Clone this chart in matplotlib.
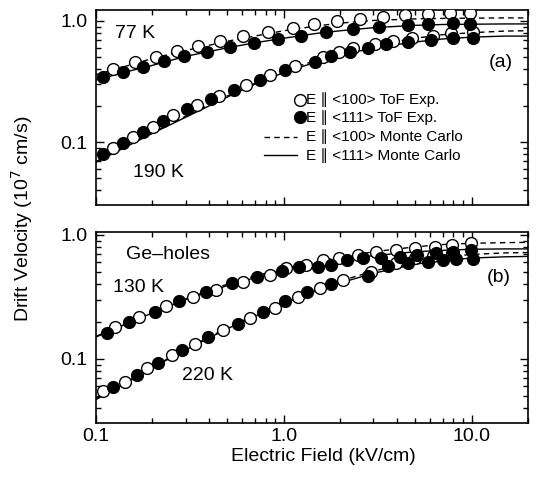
import numpy as np
import matplotlib
matplotlib.use("Agg")
import matplotlib.pyplot as plt
from matplotlib.ticker import LogLocator, FixedLocator, FixedFormatter, NullFormatter

plt.rcParams['font.family'] = ['Liberation Sans', 'DejaVu Sans']

# ---- datos (kV/cm, 1e7 cm/s) ----
# panel (a)
e77_100 = [0.124, 0.161, 0.210, 0.269, 0.350, 0.457, 0.608, 0.826, 1.12, 1.44, 1.91, 2.53, 3.37, 4.43, 5.86, 7.64, 9.84]
v77_100 = [0.40, 0.456, 0.507, 0.569, 0.625, 0.687, 0.751, 0.816, 0.881, 0.94, 0.99, 1.03, 1.07, 1.11, 1.14, 1.16, 1.16]
e77_111 = [0.109, 0.140, 0.179, 0.230, 0.294, 0.388, 0.516, 0.692, 0.933, 1.23, 1.67, 2.34, 3.20, 4.58, 5.86, 8.0, 9.84]
v77_111 = [0.343, 0.381, 0.419, 0.464, 0.514, 0.557, 0.606, 0.654, 0.71, 0.756, 0.806, 0.853, 0.887, 0.927, 0.94, 0.97, 0.94]
e190_100 = [0.124, 0.158, 0.202, 0.258, 0.343, 0.453, 0.633, 0.843, 1.15, 1.62, 1.97, 2.34, 3.05, 3.81, 4.81, 6.22, 7.79, 10.2]
v190_100 = [0.0887, 0.111, 0.134, 0.167, 0.202, 0.241, 0.296, 0.358, 0.428, 0.507, 0.551, 0.595, 0.645, 0.687, 0.719, 0.756, 0.791, 0.816]
e190_111 = [0.109, 0.140, 0.179, 0.228, 0.306, 0.412, 0.541, 0.745, 1.01, 1.46, 1.79, 2.25, 2.80, 3.52, 4.58, 6.1, 7.95, 10.2]
v190_111 = [0.0796, 0.0987, 0.122, 0.150, 0.186, 0.225, 0.269, 0.325, 0.394, 0.461, 0.514, 0.557, 0.601, 0.641, 0.674, 0.697, 0.719, 0.719]

# panel (b)
e130_100 = [0.126, 0.170, 0.236, 0.330, 0.435, 0.603, 0.843, 1.03, 1.32, 1.62, 1.97, 2.48, 3.11, 3.94, 4.98, 6.36, 7.89, 9.96]
v130_100 = [0.182, 0.219, 0.268, 0.318, 0.360, 0.413, 0.476, 0.539, 0.573, 0.621, 0.649, 0.690, 0.725, 0.757, 0.781, 0.805, 0.830, 0.867]
e130_111 = [0.115, 0.150, 0.206, 0.278, 0.385, 0.527, 0.716, 0.984, 1.21, 1.52, 1.79, 2.17, 2.64, 3.31, 4.14, 5.12, 6.44, 7.96, 9.96]
v130_111 = [0.161, 0.200, 0.241, 0.295, 0.349, 0.408, 0.461, 0.515, 0.55, 0.555, 0.573, 0.629, 0.649, 0.649, 0.668, 0.690, 0.72, 0.733, 0.757]
e220_100 = [0.109, 0.143, 0.186, 0.253, 0.336, 0.475, 0.659, 0.895, 1.19, 1.55, 2.07, 2.92, 3.97, 4.98, 6.22, 7.89]
v220_100 = [0.0555, 0.0656, 0.084, 0.108, 0.132, 0.171, 0.213, 0.256, 0.318, 0.372, 0.434, 0.506, 0.591, 0.649, 0.677, 0.711]
e220_111 = [0.124, 0.165, 0.214, 0.286, 0.396, 0.572, 0.773, 1.02, 1.33, 1.79, 2.80, 3.58, 4.58, 5.86, 7.0, 8.3, 10.2]
v220_111 = [0.0598, 0.0743, 0.0933, 0.118, 0.150, 0.191, 0.241, 0.295, 0.343, 0.403, 0.47, 0.556, 0.591, 0.609, 0.63, 0.636, 0.636]

# curvas Monte Carlo
e_mc = [0.1, 0.15, 0.2, 0.3, 0.5, 0.7, 1, 1.5, 2, 3, 5, 7, 10, 15, 20]
mc77_100 = [0.36, 0.43, 0.49, 0.57, 0.68, 0.75, 0.83, 0.91, 0.96, 1.01, 1.04, 1.05, 1.055, 1.06, 1.06]
mc77_111 = [0.325, 0.385, 0.43, 0.51, 0.60, 0.66, 0.72, 0.79, 0.83, 0.88, 0.92, 0.935, 0.94, 0.945, 0.945]
mc190_100 = [0.069, 0.095, 0.12, 0.163, 0.24, 0.305, 0.385, 0.475, 0.54, 0.63, 0.72, 0.77, 0.80, 0.825, 0.83]
mc190_111 = [0.068, 0.094, 0.118, 0.16, 0.235, 0.30, 0.375, 0.46, 0.52, 0.60, 0.67, 0.71, 0.735, 0.75, 0.75]
mc130_100 = [0.152, 0.198, 0.238, 0.305, 0.40, 0.465, 0.535, 0.61, 0.66, 0.73, 0.80, 0.835, 0.855, 0.865, 0.87]
mc130_111 = [0.150, 0.195, 0.235, 0.30, 0.39, 0.45, 0.52, 0.585, 0.63, 0.68, 0.73, 0.75, 0.765, 0.77, 0.77]
mc220_100 = [0.048, 0.067, 0.086, 0.12, 0.178, 0.225, 0.287, 0.365, 0.425, 0.51, 0.61, 0.66, 0.695, 0.715, 0.72]
mc220_111 = [0.047, 0.066, 0.085, 0.118, 0.175, 0.22, 0.28, 0.355, 0.41, 0.49, 0.58, 0.62, 0.65, 0.665, 0.67]

x_ticks = [0.1, 1.0, 10.0]
x_labels = ['0.1', '1.0', '10.0']
y_ticks = [0.1, 1.0]
y_labels = ['0.1', '1.0']

fig = plt.figure(figsize=(5.39, 4.8), dpi=100)
ax1 = fig.add_axes([0.178, 0.573, 0.802, 0.406])
ax2 = fig.add_axes([0.178, 0.119, 0.802, 0.398])

ms = 8.5
open_kw = dict(ls='none', marker='o', ms=ms, mfc='white', mec='black', mew=1.0, zorder=3)
fill_kw = dict(ls='none', marker='o', ms=ms, mfc='black', mec='black', mew=1.0, zorder=4)
dash_kw = dict(color='black', lw=1.0, ls=(0, (4, 3)), zorder=2)
solid_kw = dict(color='black', lw=1.0, zorder=2)

# Panel (a)
ax1.plot(e_mc, mc77_100, **dash_kw)
ax1.plot(e_mc, mc77_111, **solid_kw)
ax1.plot(e_mc, mc190_100, **dash_kw)
ax1.plot(e_mc, mc190_111, **solid_kw)
ax1.plot(e77_100, v77_100, **open_kw)
ax1.plot(e77_111, v77_111, **fill_kw)
ax1.plot(e190_100, v190_100, **open_kw)
ax1.plot(e190_111, v190_111, **fill_kw)
ax1.set_ylim(0.0302, 1.23)

# Panel (b)
ax2.plot(e_mc, mc130_100, **dash_kw)
ax2.plot(e_mc, mc130_111, **solid_kw)
ax2.plot(e_mc, mc220_100, **dash_kw)
ax2.plot(e_mc, mc220_111, **solid_kw)
ax2.plot(e130_100, v130_100, **open_kw)
ax2.plot(e130_111, v130_111, **fill_kw)
ax2.plot(e220_100, v220_100, **open_kw)
ax2.plot(e220_111, v220_111, **fill_kw)
ax2.set_ylim(0.0305, 1.057)

for ax in (ax1, ax2):
    ax.set_xscale('log')
    ax.set_yscale('log')
    ax.set_xlim(0.1, 20)
    ax.xaxis.set_major_locator(FixedLocator(x_ticks))
    ax.xaxis.set_major_formatter(FixedFormatter(x_labels))
    ax.xaxis.set_minor_locator(LogLocator(base=10, subs=np.arange(2, 10)))
    ax.xaxis.set_minor_formatter(NullFormatter())
    ax.yaxis.set_major_locator(FixedLocator(y_ticks))
    ax.yaxis.set_major_formatter(FixedFormatter(y_labels))
    ax.yaxis.set_minor_locator(LogLocator(base=10, subs=np.arange(2, 10)))
    ax.yaxis.set_minor_formatter(NullFormatter())
    ax.tick_params(which='both', direction='in', top=True, right=True, width=1.0, labelsize=14)
    ax.tick_params(which='major', length=6, pad=6)
    ax.tick_params(which='minor', length=3.5)
    for s in ax.spines.values():
        s.set_linewidth(1.2)

ax1.tick_params(axis='x', labelbottom=False)
ax2.tick_params(axis='x', pad=4)

# etiquetas de texto
ax1.text(0.045, 0.88, '77 K', transform=ax1.transAxes, fontsize=14, va='center')
ax1.text(0.085, 0.165, '190 K', transform=ax1.transAxes, fontsize=14, va='center')
ax1.text(0.965, 0.73, '(a)', transform=ax1.transAxes, fontsize=14, va='center', ha='right')
ax2.text(0.07, 0.88, 'Ge\u2013holes', transform=ax2.transAxes, fontsize=14, va='center')
ax2.text(0.04, 0.71, '130 K', transform=ax2.transAxes, fontsize=14, va='center')
ax2.text(0.20, 0.25, '220 K', transform=ax2.transAxes, fontsize=14, va='center')
ax2.text(0.96, 0.76, '(b)', transform=ax2.transAxes, fontsize=14, va='center', ha='right')

# leyenda dibujada a mano
leg_labels = ['E \u2225 <100> ToF Exp.', 'E \u2225 <111> ToF Exp.',
              'E \u2225 <100> Monte Carlo', 'E \u2225 <111> Monte Carlo']
tx = 0.487
rows = [0.54, 0.45, 0.35, 0.255]
ax1.plot([tx - 0.016], [rows[0]], transform=ax1.transAxes, clip_on=False, **open_kw)
ax1.plot([tx - 0.016], [rows[1]], transform=ax1.transAxes, clip_on=False, **fill_kw)
ax1.plot([0.388, 0.466], [rows[2]] * 2, transform=ax1.transAxes, **dash_kw)
ax1.plot([0.388, 0.466], [rows[3]] * 2, transform=ax1.transAxes, **solid_kw)
for lab, r in zip(leg_labels, rows):
    ax1.text(tx, r, lab, transform=ax1.transAxes, fontsize=11, va='center')

fig.text(0.04, 0.545, 'Drift Velocity (10$^7$ cm/s)', rotation=90, fontsize=14,
         ha='center', va='center')
fig.text(0.6, 0.04, 'Electric Field (kV/cm)', fontsize=14, ha='center', va='baseline')

plt.savefig('out.png', dpi=100)
plt.close()
